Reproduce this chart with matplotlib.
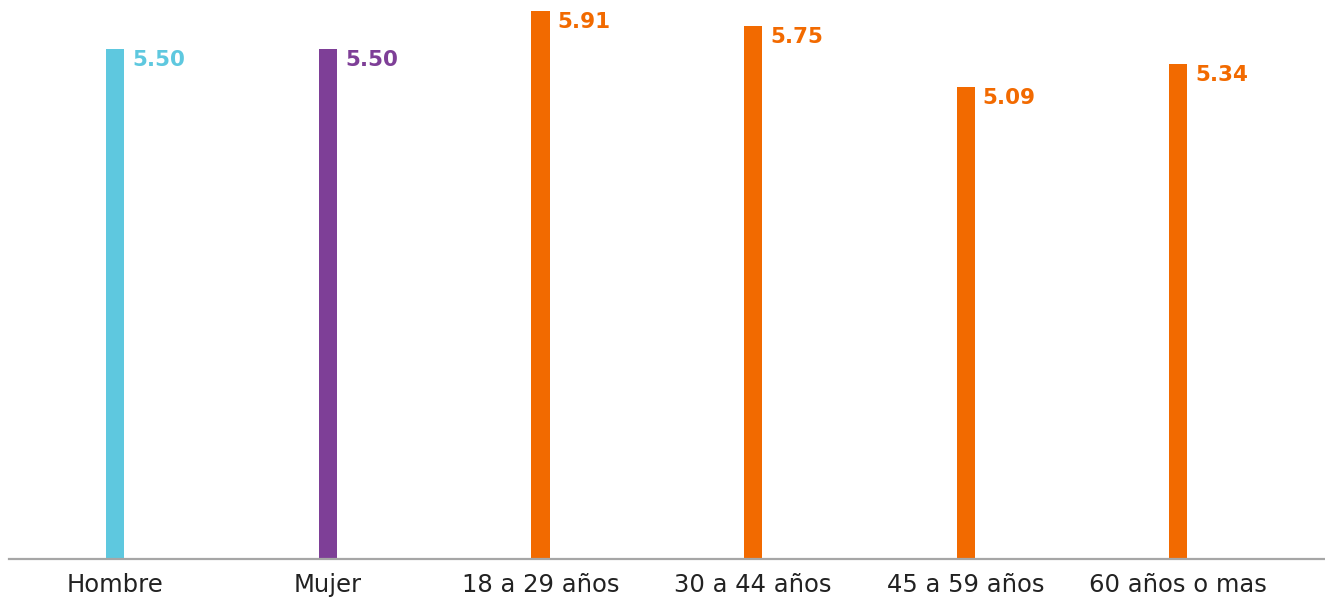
import matplotlib
matplotlib.use("Agg")
import matplotlib.pyplot as plt

# Promedio por sexo y grupo de edad
categorias = ["Hombre", "Mujer", "18 a 29 años", "30 a 44 años", "45 a 59 años", "60 años o mas"]
valores = [5.50, 5.50, 5.91, 5.75, 5.09, 5.34]
colores = ["#5EC8DF", "#7E3F97", "#F26A00", "#F26A00", "#F26A00", "#F26A00"]

plt.rcParams['font.family'] = ['DejaVu Sans']

fig = plt.figure(figsize=(13.25, 5.98), dpi=100)
ax = fig.add_axes([9 / 1325, 39 / 598, 1 - 9 / 1325, 1 - 39 / 598])

x = list(range(len(categorias)))
ax.bar(x, valores, width=0.085, color=colores, zorder=2)

for xi, v, c in zip(x, valores, colores):
    ax.annotate(f"{v:.2f}", xy=(xi, v), xytext=(17, -11),
                textcoords='offset pixels', ha='left', va='center',
                fontsize=15.5, fontweight='bold', color=c)

ax.set_xlim(-0.5, 5.69)
ax.set_ylim(0, 6.033)
ax.set_xticks(x)
ax.set_xticklabels(categorias, fontsize=17.5, color="#222222")
ax.tick_params(axis='x', length=0, pad=10)
ax.set_yticks([])

for s in ['top', 'right', 'left']:
    ax.spines[s].set_visible(False)
ax.spines['bottom'].set_color("#A6A6A6")
ax.spines['bottom'].set_linewidth(1.6)

fig.savefig("out.png", dpi=100)
